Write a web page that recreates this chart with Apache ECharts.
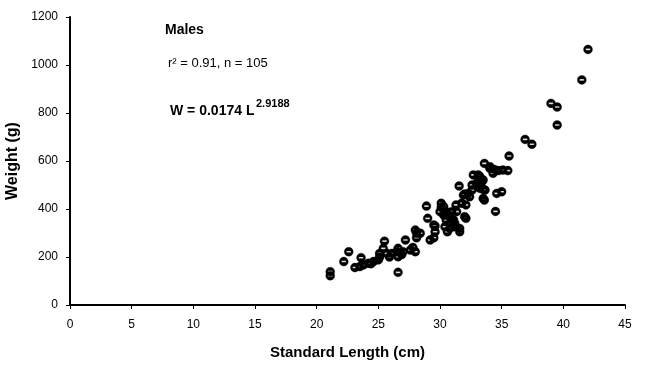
<!DOCTYPE html>
<html>
<head>
<meta charset="utf-8">
<script src="https://cdn.jsdelivr.net/npm/echarts@6/dist/echarts.min.js"></script>
<style>html,body{margin:0;padding:0;background:#fff}#c{width:650px;height:367px}</style>
</head>
<body>
<div id="c"></div>
<script>
// Standard length (cm)
const lengths = [21.1,21.1,22.2,22.6,23.1,23.5,23.6,23.8,24.2,24.6,25.0,25.1,25.1,25.4,25.5,25.7,26.1,26.5,26.6,26.6,26.6,27.0,27.2,27.6,28.0,28.1,28.1,28.0,24.4,25.9,26.9,27.8,
28.4,28.9,29.0,29.2,29.5,29.5,29.6,29.6,30.0,30.1,30.1,30.3,30.3,30.4,30.4,30.5,30.5,30.7,30.8,30.8,30.95,30.95,31.1,31.2,31.2,31.3,31.35,31.55,31.6,31.6,31.76,31.9,32.0,32.0,32.1,32.1,30.6,
32.3,32.4,32.6,32.6,32.7,32.97,33.0,33.1,33.24,33.24,33.24,33.4,33.5,33.5,33.5,33.6,33.6,33.65,34.05,34.05,34.3,34.4,34.5,34.6,34.73,35.0,35.1,35.5,35.6,
36.9,37.45,39.0,39.5,39.5,41.5,42.0];
// Weight (g)
const weights = [122,139,181,222,156,160,197,167,174,181,188,199,215,236,266,215,215,222,236,201,136,222,271,229,222,299,280,312,172,200,210,240,
299,412,361,271,280,333,305,329,389,424,407,410,375,382,326,389,354,375,365,319,354,389,354,326,340,417,389,496,319,305,424,458,462,368,417,361,305,
465,451,479,500,542,507,496,542,514,486,535,514,521,444,482,590,437,479,576,569,549,565,390,465,560,472,562,560,621,
690,670,840,825,750,938,1065];
const xTicks = {min:0, max:45, interval:5};
const yTicks = {min:0, max:1200, interval:200};

const data = lengths.map((v,i)=>[v, weights[i]]);
const chart = echarts.init(document.getElementById('c'), null, {renderer:'canvas'});
const ff = '"Liberation Sans", Arial, sans-serif';
chart.setOption({
  animation:false,
  backgroundColor:'#fff',
  grid:{left:70, right:25, top:17, bottom:62, containLabel:false, outerBoundsMode:'none'},
  xAxis:{
    type:'value', min:xTicks.min, max:xTicks.max, interval:xTicks.interval,
    name:'Standard Length (cm)', nameLocation:'middle', nameGap:40,
    nameTextStyle:{fontFamily:ff, fontSize:15, fontWeight:'bold', color:'#000'},
    axisLine:{show:true, onZero:false, lineStyle:{color:'#000', width:2}},
    axisTick:{show:true, length:4, lineStyle:{color:'#000', width:1}},
    axisLabel:{fontFamily:ff, fontSize:12, color:'#000', margin:14},
    splitLine:{show:false}
  },
  yAxis:{
    type:'value', min:yTicks.min, max:yTicks.max, interval:yTicks.interval,
    name:'Weight (g)', nameLocation:'middle', nameGap:43, nameRotate:90,
    nameTextStyle:{fontFamily:ff, fontSize:16, fontWeight:'bold', color:'#000'},
    axisLine:{show:true, lineStyle:{color:'#000', width:2}},
    axisTick:{show:true, length:4, lineStyle:{color:'#000', width:1}},
    axisLabel:{fontFamily:ff, fontSize:12, color:'#000', margin:12, formatter:v=>String(v)},
    splitLine:{show:false}
  },
  series:[{
    type:'scatter',
    data:data,
    symbol:'path://M0,-5 A5,5 0 1,1 0,5 A5,5 0 1,1 0,-5 Z M-2.5,-0.9 L-2.5,0.9 L2.5,0.9 L2.5,-0.9 Z',
    symbolSize:9,
    itemStyle:{color:'#000', opacity:1, borderColor:'#000', borderWidth:0.3}
  }],
  graphic:[
    {type:'text', left:165, top:23, style:{text:'Males', font:'bold 14px '+ff, fill:'#000'}},
    {type:'text', left:168, top:57, style:{text:'r² = 0.91, n = 105', font:'13px '+ff, fill:'#000'}},
    {type:'text', left:170, top:104, style:{text:'W = 0.0174 L', font:'bold 14px '+ff, fill:'#000'}},
    {type:'text', left:256, top:98, style:{text:'2.9188', font:'bold 11px '+ff, fill:'#000'}}
  ]
});
</script>
</body>
</html>
